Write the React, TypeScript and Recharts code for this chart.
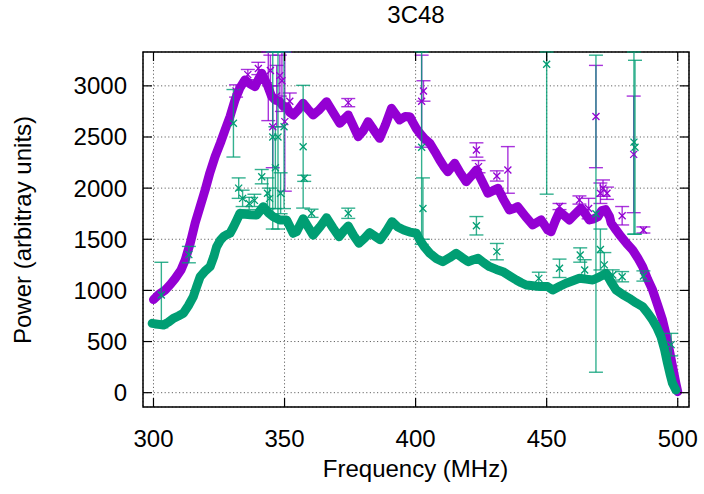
import React from "react";
import {
  ComposedChart,
  Line,
  Scatter,
  ErrorBar,
  XAxis,
  YAxis,
  CartesianGrid,
  ReferenceArea,
} from "recharts";

// ---- data ----
const xTicks = [300, 350, 400, 450, 500];
const yTicks = [0, 500, 1000, 1500, 2000, 2500, 3000];
const xDomain: [number, number] = [296, 504.3];
const yDomain: [number, number] = [-140, 3331];

const purpleFreq = [
  300.0, 302.0, 304.5, 306.5, 308.3, 310.5, 312.1, 314.0, 315.9, 317.8, 319.7, 321.5, 323.5, 325.5,
  327.3, 329.2, 331.1, 333.0, 334.9, 336.8, 338.7, 340.0, 341.3, 342.5, 343.7, 345.0, 346.5, 348.0,
  349.5, 350.8, 352.0, 353.3, 355.0, 357.1, 359.0, 360.9, 363.0, 366.0, 368.5, 371.1, 374.3, 376.0,
  378.1, 380.0, 381.9, 384.0, 386.3, 388.5, 390.8, 392.5, 393.9, 396.0, 397.8, 399.0, 400.3, 401.6,
  403.5, 405.4, 407.3, 409.2, 410.8, 412.3, 414.9, 417.0, 419.3, 421.3, 423.2, 425.5, 427.6, 429.5,
  431.4, 433.5, 435.8, 437.5, 439.0, 442.0, 444.7, 447.9, 450.4, 451.7, 453.3, 454.9, 456.8, 458.7,
  461.0, 463.1, 464.7, 466.3, 468.0, 469.5, 471.0, 472.5, 474.0, 474.6, 476.5, 478.4, 480.5, 482.8,
  484.7, 486.6, 488.5, 490.4, 492.3, 494.2, 495.5, 496.8, 498.0, 499.3, 500.0,
];
const purplePower = [
  910, 960, 1004, 1060, 1118, 1200, 1297, 1460, 1659, 1820, 1982, 2150, 2308, 2440,
  2569, 2700, 2862, 2980, 3058, 3020, 2992, 3060, 3123, 3060, 2992, 2900, 2860, 2850,
  2800, 2797, 2740, 2715, 2760, 2830, 2770, 2715, 2760, 2845, 2740, 2634, 2715, 2620,
  2503, 2560, 2650, 2570, 2487, 2620, 2781, 2720, 2667, 2700, 2699, 2640, 2580, 2536,
  2480, 2439, 2360, 2275, 2210, 2161, 2243, 2150, 2063, 2120, 2178, 2060, 1950, 1975,
  1998, 1890, 1786, 1800, 1819, 1720, 1640, 1689, 1591, 1574, 1680, 1770, 1730, 1689,
  1750, 1803, 1750, 1689, 1700, 1720, 1780, 1790, 1720, 1659, 1590, 1525, 1460, 1395,
  1320, 1232, 1110, 1004, 860, 711, 570, 417, 260, 92, 10,
];

const greenFreq = [
  299.5, 301.5, 303.8, 305.7, 307.6, 309.5, 311.4, 313.3, 315.2, 316.5, 317.8, 319.7, 321.6, 323.0,
  324.1, 325.5, 326.7, 328.0, 329.2, 330.5, 331.8, 333.0, 335.0, 337.0, 339.4, 340.7, 341.9, 343.8,
  345.7, 348.2, 350.8, 353.3, 354.6, 357.1, 359.0, 360.9, 363.5, 366.0, 368.5, 370.8, 372.5, 374.3,
  376.3, 378.4, 380.5, 382.5, 384.5, 386.5, 388.8, 391.0, 393.2, 395.5, 397.8, 400.3, 401.6, 403.5,
  405.4, 408.0, 410.4, 413.0, 415.5, 417.8, 420.0, 422.0, 423.8, 426.0, 428.2, 430.8, 433.3, 436.0,
  438.4, 440.3, 442.2, 444.8, 447.3, 450.4, 452.3, 455.0, 457.4, 460.0, 462.5, 465.0, 467.6, 470.0,
  472.7, 474.6, 476.5, 479.0, 481.5, 484.0, 486.6, 488.5, 490.4, 492.0, 493.6, 495.0, 496.1, 497.0,
  498.0, 499.3,
];
const greenPower = [
  678, 670, 662, 690, 727, 750, 776, 850, 939, 1040, 1134, 1190, 1232, 1330,
  1428, 1490, 1525, 1545, 1559, 1620, 1689, 1754, 1745, 1740, 1737, 1780, 1819, 1760,
  1721, 1689, 1689, 1559, 1574, 1700, 1620, 1540, 1620, 1710, 1610, 1525, 1580, 1630,
  1540, 1461, 1510, 1565, 1530, 1495, 1580, 1672, 1620, 1591, 1570, 1559, 1493, 1420,
  1363, 1310, 1281, 1320, 1363, 1320, 1281, 1300, 1314, 1270, 1232, 1205, 1183, 1140,
  1102, 1075, 1053, 1045, 1037, 1037, 1004, 1040, 1070, 1095, 1118, 1110, 1102, 1130,
  1167, 1080, 1004, 960, 923, 880, 841, 780, 711, 640, 548, 420, 287, 190,
  92, 26,
];

// outliers with error bars
const purpleOutFreq = [331.5, 336.0, 340.0, 343.8, 344.6, 345.5, 347.0, 348.2, 349.0, 350.1, 352.0, 374.3, 402.3, 403.0, 423.2, 424.0, 431.0, 435.2, 454.9, 462.5, 466.0, 468.8, 470.5, 471.5, 473.0, 478.8, 483.2, 486.9];
const purpleOutPower = [2950, 3110, 3170, 3000, 3150, 2600, 2900, 3100, 3050, 2650, 2850, 2836, 2850, 2950, 2373, 2210, 2119, 2178, 1820, 1884, 1800, 2700, 1950, 2000, 1950, 1730, 2330, 1591];
const purpleOutErr = [60, 50, 60, 340, 150, 400, 300, 200, 300, 680, 80, 40, 450, 100, 70, 60, 50, 228, 30, 40, 100, 500, 100, 80, 60, 90, 570, 30];

const greenOutFreq = [303.0, 313.5, 330.5, 332.5, 334.0, 336.5, 338.5, 341.3, 343.5, 344.3, 345.5, 346.5, 347.5, 348.5, 349.8, 357.1, 357.5, 360.3, 374.3, 402.3, 402.8, 423.2, 431.0, 447.0, 450.0, 454.9, 462.8, 464.5, 468.8, 470.5, 472.0, 475.2, 478.8, 483.3, 483.7, 486.9, 497.5];
const greenOutPower = [955, 1350, 2634, 2000, 1900, 1850, 1880, 2112, 1950, 1900, 2500, 2200, 2500, 1950, 2600, 2405, 2096, 1754, 1754, 2400, 1800, 1632, 1379, 1118, 3211, 1216, 1346, 1200, 1750, 1400, 1250, 1151, 1134, 2450, 2400, 1141, 470];
const greenOutErr = [320, 80, 330, 100, 80, 60, 60, 70, 150, 100, 900, 400, 900, 200, 800, 600, 30, 40, 50, 950, 300, 90, 80, 60, 1270, 90, 70, 100, 1550, 200, 120, 50, 50, 900, 850, 50, 110];

const PURPLE = "#9400d3";
const GREEN = "#009e73";

const clampErr = (y: number, e: number): [number, number] => [e, Math.max(0, Math.min(e, yDomain[1] - y))];

const purpleLine = purpleFreq.map((x, i) => ({ x, y: purplePower[i] }));
const greenLine = greenFreq.map((x, i) => ({ x, y: greenPower[i] }));
const purpleOut = purpleOutFreq.map((x, i) => ({ x, y: purpleOutPower[i], e: clampErr(purpleOutPower[i], purpleOutErr[i]) }));
const greenOut = greenOutFreq.map((x, i) => ({ x, y: greenOutPower[i], e: clampErr(greenOutPower[i], greenOutErr[i]) }));

// ---- layout ----
const W = 704;
const H = 494;
const PLOT_LEFT = 143;
const PLOT_TOP = 52;
const PLOT_RIGHT = 689;
const PLOT_BOTTOM = 407;
const FONT = "'Liberation Sans', Arial, Helvetica, sans-serif";
const FS = 24;
const TICK_LEN = 9;

const XTick = (props: any) => {
  const { x, payload } = props;
  return (
    <g>
      <line x1={x} x2={x} y1={PLOT_BOTTOM} y2={PLOT_BOTTOM - TICK_LEN} stroke="#000" strokeWidth={1.2} />
      <line x1={x} x2={x} y1={PLOT_TOP} y2={PLOT_TOP + TICK_LEN} stroke="#000" strokeWidth={1.2} />
      <text x={x} y={447} textAnchor="middle" fontSize={FS} fontFamily={FONT} fill="#000">
        {payload.value}
      </text>
    </g>
  );
};

const YTick = (props: any) => {
  const { y, payload } = props;
  return (
    <g>
      <line x1={PLOT_LEFT} x2={PLOT_LEFT + TICK_LEN} y1={y} y2={y} stroke="#000" strokeWidth={1.2} />
      <line x1={PLOT_RIGHT} x2={PLOT_RIGHT - TICK_LEN} y1={y} y2={y} stroke="#000" strokeWidth={1.2} />
      <text x={127} y={y} dy={8.5} textAnchor="end" fontSize={FS} fontFamily={FONT} fill="#000">
        {payload.value}
      </text>
    </g>
  );
};

const makeCross = (color: string) => (props: any) => {
  const { cx, cy } = props;
  if (cx == null || cy == null) return <g />;
  const s = 3.5;
  return (
    <g stroke={color} strokeWidth={1.3}>
      <line x1={cx - s} y1={cy - s} x2={cx + s} y2={cy + s} />
      <line x1={cx - s} y1={cy + s} x2={cx + s} y2={cy - s} />
    </g>
  );
};

export default function App() {
  return (
    <div style={{ position: "absolute", left: 0, top: 0, width: W, height: H, background: "#fff" }}>
      <ComposedChart
        width={W}
        height={H}
        margin={{ top: PLOT_TOP, right: W - PLOT_RIGHT, bottom: 47, left: PLOT_LEFT - 60 }}
      >
        <CartesianGrid stroke="#666" strokeDasharray="1.2 2.4" strokeWidth={1} />
        <XAxis
          type="number"
          dataKey="x"
          domain={xDomain}
          ticks={xTicks}
          allowDataOverflow
          height={40}
          axisLine={false}
          tickLine={false}
          tickSize={0}
          tick={<XTick />}
          interval={0}
        />
        <YAxis
          type="number"
          domain={yDomain}
          ticks={yTicks}
          allowDataOverflow
          width={60}
          axisLine={false}
          tickLine={false}
          tickSize={0}
          tick={<YTick />}
          interval={0}
        />
        <Line
          data={purpleLine}
          dataKey="y"
          stroke={PURPLE}
          strokeWidth={9}
          strokeLinejoin="round"
          strokeLinecap="round"
          dot={false}
          isAnimationActive={false}
          type="linear"
        />
        <Scatter data={purpleOut} dataKey="y" shape={makeCross(PURPLE)} isAnimationActive={false}>
          <ErrorBar dataKey="e" direction="y" width={7} stroke={PURPLE} strokeWidth={1.4} strokeOpacity={0.8} isAnimationActive={false} />
        </Scatter>
        <Line
          data={greenLine}
          dataKey="y"
          stroke={GREEN}
          strokeWidth={9}
          strokeLinejoin="round"
          strokeLinecap="round"
          dot={false}
          isAnimationActive={false}
          type="linear"
        />
        <Scatter data={greenOut} dataKey="y" shape={makeCross(GREEN)} isAnimationActive={false}>
          <ErrorBar dataKey="e" direction="y" width={7} stroke={GREEN} strokeWidth={1.4} strokeOpacity={0.8} isAnimationActive={false} />
        </Scatter>
        <ReferenceArea
          x1={xDomain[0]}
          x2={xDomain[1]}
          y1={yDomain[0]}
          y2={yDomain[1]}
          fill="none"
          fillOpacity={0}
          stroke="#000"
          strokeWidth={1.5}
          ifOverflow="visible"
        />
      </ComposedChart>
      <svg width={W} height={H} style={{ position: "absolute", left: 0, top: 0, pointerEvents: "none" }}>
        <text x={416} y={23} textAnchor="middle" fontSize={FS} fontFamily={FONT} fill="#000">
          3C48
        </text>
        <text x={415.5} y={477} textAnchor="middle" fontSize={FS} fontFamily={FONT} fill="#000">
          Frequency (MHz)
        </text>
        <text
          x={31}
          y={230}
          transform="rotate(-90 31 230)"
          textAnchor="middle"
          fontSize={FS}
          fontFamily={FONT}
          fill="#000"
        >
          Power (arbitray units)
        </text>
      </svg>
    </div>
  );
}
